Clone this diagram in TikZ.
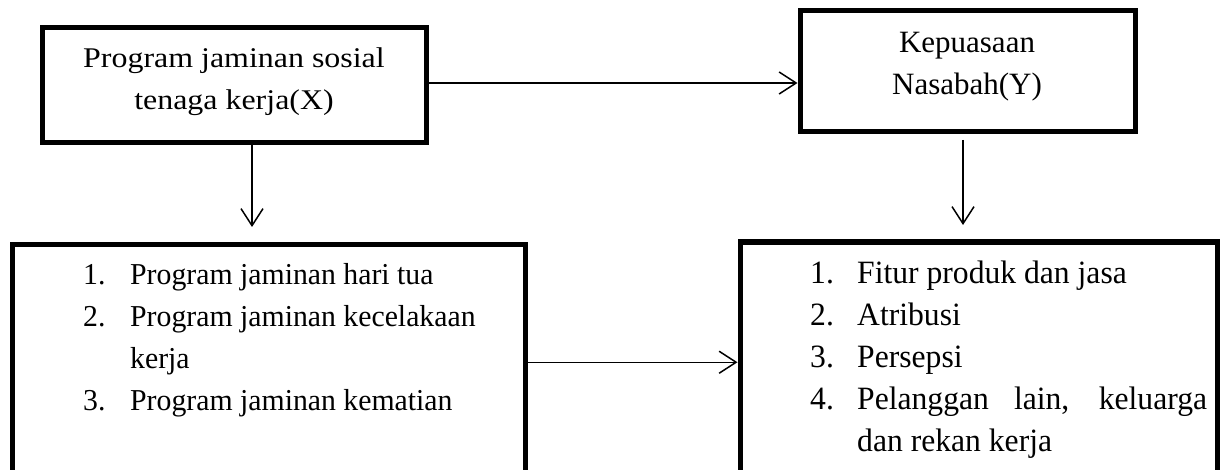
\documentclass[tikz,border=0pt]{standalone}
\usepackage{fontspec}
\setmainfont{Liberation Serif}
\usetikzlibrary{arrows.meta,calc}
\newcommand{\tsq}[1]{\scalebox{1.03}[0.92]{#1}}
\newcommand{\lsq}[1]{\scalebox{0.96}[0.98]{#1}}
\newcommand{\rsq}[1]{\scalebox{1.02}[1.05]{#1}}
\begin{document}
\begin{tikzpicture}[x=1pt,y=-1pt,
  box/.style={draw,line width=5pt,rectangle,inner sep=0pt},
  conn/.style={line width=1.5pt,-{Straight Barb[length=17pt,width=22pt,line width=1.5pt]}},
  txt/.style={anchor=base,inner sep=0pt,font=\fontsize{31}{42}\selectfont},
  lnum/.style={anchor=base west,inner sep=0pt,font=\fontsize{31}{42}\selectfont}]
\useasboundingbox (0,0) rectangle (1222,470);
\clip (0,0) rectangle (1222,470);
% boxes
\node[box,minimum width=384pt,minimum height=115pt] (A) at (234,85) {};
\node[box,minimum width=335pt,minimum height=121pt] (B) at (967.5,71.5) {};
\node[box,minimum width=513pt,minimum height=235.5pt] (C) at (268.5,362.25) {};
\node[box,minimum width=477pt,minimum height=238pt] (D) at (978.5,361) {};
% box texts
\node[txt] (a1) at (234,68) {\tsq{Program jaminan sosial}};
\node[txt] (a2) at (234,110) {\tsq{tenaga kerja(X)}};
\node[txt] (b1) at (967,53) {Kepuasaan};
\node[txt] (b2) at (967,95) {Nasabah(Y)};
% left list
\node[lnum] (c1n) at (83,284) {\lsq{1.}};
\node[lnum] (c1) at (130,284) {\lsq{Program jaminan hari tua}};
\node[lnum] (c2n) at (83,326) {\lsq{2.}};
\node[lnum] (c2) at (130,326) {\lsq{Program jaminan kecelakaan}};
\node[lnum] (c2b) at (130,368) {\lsq{kerja}};
\node[lnum] (c3n) at (83,410) {\lsq{3.}};
\node[lnum] (c3) at (130,410) {\lsq{Program jaminan kematian}};
% right list
\node[lnum] (d1n) at (810,283) {\rsq{1.}};
\node[lnum] (d1) at (857,283) {\rsq{Fitur produk dan jasa}};
\node[lnum] (d2n) at (810,325) {\rsq{2.}};
\node[lnum] (d2) at (857,325) {\rsq{Atribusi}};
\node[lnum] (d3n) at (810,367) {\rsq{3.}};
\node[lnum] (d3) at (857,367) {\rsq{Persepsi}};
\node[lnum] (d4n) at (810,409) {\rsq{4.}};
\node[lnum] (d4) at (857,409) {\rsq{\makebox[343pt][s]{Pelanggan lain, keluarga}}};
\node[lnum] (d4b) at (857,451) {\rsq{dan rekan kerja}};
% connector end points
\coordinate (ac) at ($(A.south)+(18,0)$);
\coordinate (bd) at ($(B.south)+(-4.5,0)$);
% connectors
\draw[conn] ($(A.east)+(0,-2)$) -- ($(A.east -| B.west)+(0,-2)$);
\draw[conn,shorten >=15pt] (ac) -- (ac |- C.north);
\draw[conn,shorten <=5.5pt,shorten >=14.5pt] (bd) -- (bd |- D.north);
\draw[conn] (C.east) -- (C.east -| D.west);
\end{tikzpicture}
\end{document}
